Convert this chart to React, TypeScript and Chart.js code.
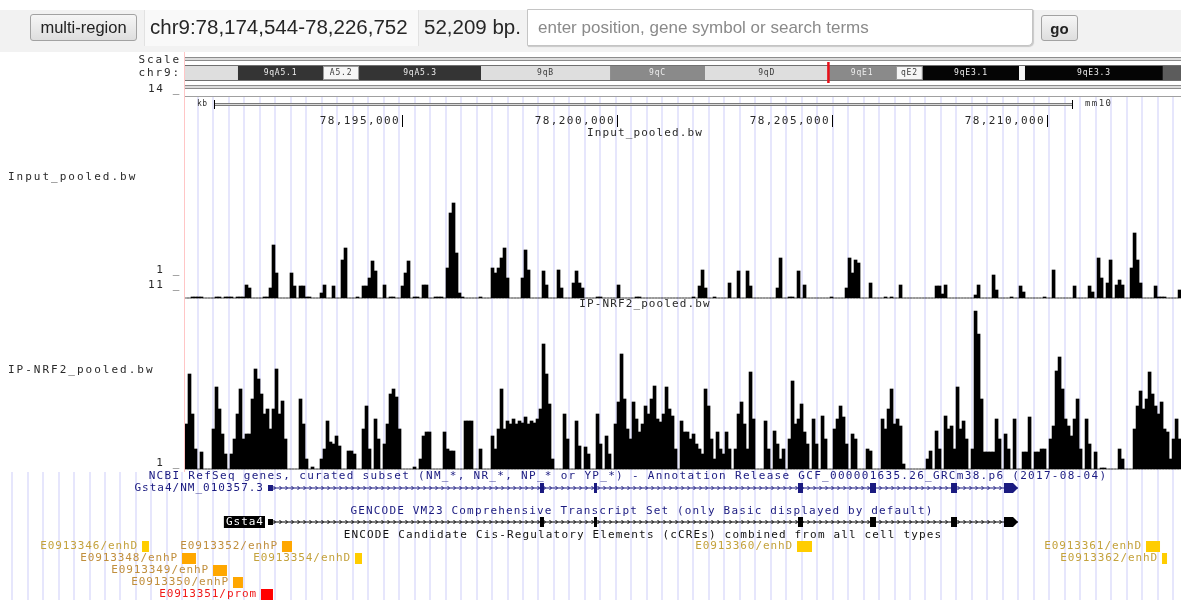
import { useEffect, useRef } from 'react';
import { Chart, registerables } from 'chart.js';

Chart.register(...registerables);

// Window on chr9 (mm10) covered by the data area
const VIEW_START = 78189954;
const VIEW_END = 78213116;
// Size of one summarised bigWig bin, in bp
const BIN_BP = 69.77;

// Mean coverage per bin, Input_pooled.bw
const inputSignal = [
  0, 0, 0.1, 0.1, 0.1, 0.1, 0, 0, 0, 0, 0.1, 0.1, 0, 0.1, 0.1, 0.1, 0, 0.1, 0.1, 0.1,
  1.3, 1, 0, 0, 0, 0, 0.1, 0.1, 1, 5.3, 2.5, 0, 0, 0, 0, 2.5, 1.2, 0, 1.2, 1.2,
  0.1, 0.1, 0, 0, 0, 0.5, 1.3, 0, 0, 1.2, 0, 0, 3.8, 5, 0, 0, 0, 0.1, 0, 1.2,
  1.2, 2, 3.7, 2.7, 0, 0, 1.3, 0, 0.1, 0.1, 0, 0, 1.2, 2.5, 3.7, 0, 0.1, 0.1, 0, 1.3,
  1.3, 0, 0, 0.1, 0.1, 0.1, 0, 3, 8.5, 9.5, 4.5, 0.5, 0.1, 0, 0, 0, 0, 0, 0.1, 0,
  0, 0, 3, 2.5, 3, 4, 5, 2, 0, 0, 0, 0, 2, 4.8, 2.8, 0, 0, 0, 0, 2.7,
  1.3, 0, 0, 0, 2.8, 1, 0, 0, 0, 1.5, 2.7, 1.5, 1, 0, 0, 0, 0, 0.1, 0.1, 0,
  0, 0, 0, 0, 1.3, 0, 0, 0, 0, 0, 0.1, 0.1, 0, 0, 0, 0, 0, 0, 0, 0,
  0, 0, 0, 0, 0, 0, 0, 0, 0, 0.1, 0, 1.2, 2.8, 1, 0, 0, 0.1, 0, 0, 0,
  0, 1.5, 0, 0, 2.7, 0, 0, 2.7, 1.2, 0, 0, 0, 0, 0, 0, 0, 0, 1, 4, 0,
  0, 0.1, 0.1, 0, 2.7, 0, 1.3, 0, 0, 0, 0, 0, 0, 0, 0, 0.1, 0, 0, 0, 0,
  1, 4, 2.5, 3.8, 3.5, 0, 0, 0, 1.5, 0, 0, 0, 0, 0.1, 0, 0.1, 0, 0, 1.3, 0,
  0, 0, 0, 0, 0, 0, 0, 0, 0, 0, 1.2, 1.2, 0.4, 1.3, 0, 0, 0, 0, 0, 0,
  0, 0, 0, 0.3, 1.3, 0, 0, 0, 0, 2.3, 0.8, 0, 0, 0, 0, 0.1, 0, 0, 1.2, 0.6,
  0, 0, 0, 0, 0, 0, 0.1, 0, 0, 2.8, 0, 0, 0, 0, 0, 0, 1.2, 0, 0, 0,
  0, 1.2, 0.6, 0, 4, 2, 0, 1.5, 3.8, 0, 1.3, 1.8, 1.3, 0, 0, 3, 6.5, 3.8, 1.5, 0,
  0, 0, 0, 1.2, 0.1, 0.1, 0.1, 0, 0, 0, 0, 0.8,
];

// Mean coverage per bin, IP-NRF2_pooled.bw
const ipSignal = [
  4.5, 9.5, 5.5, 2, 0, 1.7, 0, 0, 0, 4, 8.2, 6, 3.5, 1.5, 0, 1.5, 3, 5.5, 8, 3,
  3.5, 3.5, 7, 10, 9, 7.5, 5.5, 6, 4, 6, 10, 5.5, 6.8, 3, 0, 0, 0, 0, 7, 4.5,
  1, 0, 0.2, 0, 0, 1, 2, 4.8, 2.7, 2.5, 3.3, 2.3, 0, 0, 1.8, 1.8, 1.5, 0, 0, 4,
  6.3, 2, 0, 5, 3, 0, 2.5, 4.5, 7.5, 8, 7.2, 4, 0, 0, 0, 0, 0.2, 0, 1, 3.3,
  3.7, 3.7, 0, 0, 0, 0, 3.7, 2, 1.8, 1.8, 0, 0, 0, 4.8, 4.8, 4.8, 0, 0, 2, 0,
  0, 0, 3.3, 2, 4, 8, 4, 4.8, 4.5, 5, 4.5, 4.8, 4.6, 5.2, 4.5, 4.8, 4.6, 5, 6, 12.5,
  9.5, 6.5, 1, 0, 0, 0, 5.5, 3, 0, 0, 4.8, 2.3, 0, 2.2, 1.5, 0, 0, 5.5, 2.5, 0,
  3.3, 1.5, 0, 4.5, 6.7, 11.5, 7, 4, 3, 6.7, 5, 3.7, 4.5, 6.3, 5.5, 7, 8.3, 5, 4.7, 5.5,
  8.2, 6, 5.3, 2, 0, 4.8, 3.7, 3.7, 3, 3.5, 2.5, 2, 1.5, 8, 6.3, 3, 1, 3.7, 2, 1.5,
  3.7, 2, 0, 2, 5.5, 6.7, 4.5, 2, 9.7, 5, 0, 0, 0, 4.8, 2, 0, 3.8, 2.5, 1, 2,
  0, 3, 8.8, 4.5, 5, 6.5, 3.7, 2.5, 0, 5, 2.5, 0, 5.3, 3, 0, 0, 4, 5, 6.3, 5.2,
  2.5, 0, 3.5, 3, 0, 0, 0, 2, 1.8, 0, 0, 0, 5, 4, 6, 8, 4.5, 5, 4.3, 0.5,
  0, 0, 0, 0, 0, 0, 0, 1, 1.8, 0, 3.8, 2, 0, 5.3, 4, 4.3, 2, 8.2, 4, 4.8,
  3, 0, 2, 15.8, 13.5, 7, 1.7, 1.7, 1.7, 1.7, 5, 3, 0, 3.5, 2, 0, 5, 0, 0, 1.7,
  1.7, 5.2, 0, 1.7, 1.7, 2, 2, 0, 3, 4.3, 9.8, 11.2, 8, 5, 4.3, 3.3, 5, 7, 2, 0,
  5, 2.5, 0, 1.7, 0, 0.1, 0.1, 0, 0, 0, 0, 2, 1, 0, 0, 0, 4, 6.3, 7.8, 6,
  7, 9.7, 7.5, 6.3, 5.5, 6.7, 4, 3.7, 1, 3, 5, 3,
];

// Base-position ruler and blue guide lines
const rulerTicks = [78195000, 78200000, 78205000, 78210000];
const guideStart = 78190254;
const guideStep = 360;

// chr9 ideogram, band extents in Mb
const IDEO_SPAN_MB = 121.1;
const viewPosMb = 78.2;
const bandLabels = ['', '9qA5.1', 'A5.2', '9qA5.3', '9qB', '9qC', '9qD', '9qE1', 'qE2', '9qE3.1', '', '9qE3.3', ''];
const bandStartMb = [0, 6.44, 16.78, 21.16, 35.99, 51.68, 63.23, 78.2, 86.45, 89.7, 101.41, 102.13, 118.9];
const bandEndMb = [6.44, 16.78, 21.16, 35.99, 51.68, 63.23, 78.2, 86.45, 89.7, 101.41, 102.13, 118.9, 121.1];
const bandStains = ['gpos25', 'gpos75', 'gneg', 'gpos75', 'gpos25', 'gpos50', 'gpos25', 'gpos50', 'gneg', 'gpos100', 'gneg', 'gpos100', 'gpos66'];

// Gsta4 transcript (NM_010357.3, + strand)
const txStart = 78191884;
const txEnd = 78209326;
const cdsStart = 78198209;
const cdsEnd = 78209209;
const exonStarts = [78191884, 78198209, 78199465, 78204209, 78205884, 78207768, 78209000];
const exonEnds = [78192000, 78198302, 78199535, 78204326, 78206023, 78207907, 78209326];

// ENCODE candidate cis-regulatory elements
const ccreNames = ['E0913346/enhD', 'E0913348/enhP', 'E0913349/enhP', 'E0913350/enhP', 'E0913351/prom', 'E0913352/enhP', 'E0913354/enhD', 'E0913360/enhD', 'E0913361/enhD', 'E0913362/enhD'];
const ccreStarts = [78188954, 78189884, 78190605, 78191070, 78191721, 78192209, 78193907, 78204186, 78212302, 78212674];
const ccreEnds = [78189116, 78190209, 78190930, 78191302, 78192000, 78192442, 78194070, 78204535, 78212628, 78212791];
const ccreClasses = ['enhD', 'enhP', 'enhP', 'enhP', 'prom', 'enhP', 'enhD', 'enhD', 'enhD', 'enhD'];

const STAIN_FILL: Record<string, string> = {
  gneg: '#f6f6f6', gpos25: '#dedede', gpos50: '#8a8a8a', gpos66: '#5c5c5c', gpos75: '#343434', gpos100: '#050505',
};
const CCRE_BOX: Record<string, string> = { enhD: '#ffcd00', enhP: '#ffa700', prom: '#ff0000' };
const CCRE_TEXT: Record<string, string> = { enhD: '#c4a23c', enhP: '#c08e3c', prom: '#f01818' };
const NAVY = '#1a1a80';
const INK = '#2a2a2a';
const MONO = '"DejaVu Sans Mono", monospace';

function txt(ctx: CanvasRenderingContext2D, s: string, x: number, y: number, align: CanvasTextAlign, color: string, size = 11, spacing = 0.9) {
  ctx.save();
  ctx.font = `${size}px ${MONO}`;
  (ctx as any).letterSpacing = `${spacing}px`;
  ctx.textAlign = align;
  ctx.textBaseline = 'middle';
  ctx.fillStyle = color;
  ctx.fillText(s, x, y);
  ctx.restore();
}

function textWidth(ctx: CanvasRenderingContext2D, s: string, size = 11, spacing = 0.9) {
  ctx.save();
  ctx.font = `${size}px ${MONO}`;
  (ctx as any).letterSpacing = `${spacing}px`;
  const w = ctx.measureText(s).width;
  ctx.restore();
  return w;
}

function drawTranscript(ctx: CanvasRenderingContext2D, xs: any, y: number, color: string) {
  const s = xs.getPixelForValue(txStart);
  const e = xs.getPixelForValue(txEnd);
  ctx.fillStyle = color;
  ctx.strokeStyle = color;
  ctx.fillRect(s, y - 0.5, e - s, 1);
  ctx.lineWidth = 1;
  ctx.beginPath();
  for (let p = s + 7; p < e - 6; p += 6) {
    ctx.moveTo(p - 1.5, y - 2);
    ctx.lineTo(p + 0.5, y);
    ctx.lineTo(p - 1.5, y + 2);
  }
  ctx.stroke();
  for (let i = 0; i < exonStarts.length; i++) {
    const a0 = exonStarts[i];
    const a1 = exonEnds[i];
    const p0 = xs.getPixelForValue(a0);
    const p1 = xs.getPixelForValue(a1);
    const c0 = Math.max(a0, cdsStart);
    const c1 = Math.min(a1, cdsEnd);
    if (c1 > c0) {
      const q0 = xs.getPixelForValue(c0);
      const q1 = xs.getPixelForValue(c1);
      ctx.fillRect(q0, y - 5, Math.max(q1 - q0, 2), 10);
    }
    if (a1 > cdsEnd) {
      // 3' end drawn as the strand arrow
      const q0 = xs.getPixelForValue(Math.max(a0, cdsEnd));
      ctx.beginPath();
      ctx.moveTo(q0, y - 5);
      ctx.lineTo(p1, y);
      ctx.lineTo(q0, y + 5);
      ctx.closePath();
      ctx.fill();
    } else if (a0 < cdsStart) {
      const q1 = xs.getPixelForValue(Math.min(a1, cdsStart));
      ctx.fillRect(p0, y - 3, Math.max(q1 - p0, 2), 6);
    }
  }
}

const browserTracks = {
  id: 'browserTracks',
  beforeDatasetsDraw(chart: any) {
    const { ctx, chartArea: a, scales } = chart;
    const xs = scales.x;
    const xc = scales.xChr;
    const W = chart.width;
    const hRule = (y: number, color: string) => {
      ctx.fillStyle = color;
      ctx.fillRect(a.left, y, a.right - a.left, 1);
    };
    ctx.save();
    // guide lines
    ctx.fillStyle = '#e6e6fc';
    for (let k = -30; k < 90; k++) {
      const px = Math.round(xs.getPixelForValue(guideStart + k * guideStep));
      if (px < 0 || px > W) continue;
      if (px >= a.left + 2) ctx.fillRect(px - 1, 97, 2, 375);
      ctx.fillRect(px - 1, 472, 2, 128);
    }
    // left edge of the data area
    ctx.fillStyle = '#ffc6c6';
    ctx.fillRect(a.left - 1, 52, 1, 420);

    // Scale row
    hRule(57, '#8c8c8c');
    hRule(58, '#dcdcdc');
    hRule(59, '#dcdcdc');
    hRule(60, '#8c8c8c');

    // ideogram
    for (let i = 0; i < bandStartMb.length; i++) {
      const x0 = xc.getPixelForValue(bandStartMb[i]);
      const x1 = xc.getPixelForValue(bandEndMb[i]);
      ctx.fillStyle = STAIN_FILL[bandStains[i]];
      ctx.fillRect(x0, 66, x1 - x0, 14);
      if (bandStains[i] === 'gneg' && x1 - x0 > 12) {
        ctx.strokeStyle = '#9a9a9a';
        ctx.lineWidth = 1;
        ctx.strokeRect(x0 + 0.5, 66.5, x1 - x0 - 1, 13);
      }
    }
    hRule(65, '#707070');
    hRule(80, '#707070');
    const xm = xc.getPixelForValue(viewPosMb);
    ctx.fillStyle = '#e8101a';
    ctx.fillRect(xm - 1, 62, 2.5, 21);

    // rows under the ideogram
    hRule(85, '#8c8c8c');
    hRule(86, '#dcdcdc');
    hRule(87, '#dcdcdc');
    hRule(88, '#8c8c8c');
    hRule(96, '#a0a0a0');

    // base-position ruler
    const r0 = a.left + 29;
    const r1 = a.right - 109;
    ctx.fillStyle = '#7a7a7a';
    ctx.fillRect(r0, 103, r1 - r0, 1);
    ctx.fillRect(r0, 105, r1 - r0, 1);
    ctx.fillStyle = '#d8d8d8';
    ctx.fillRect(r0, 104, r1 - r0, 1);
    ctx.fillStyle = '#000';
    ctx.fillRect(r0, 100, 1, 9);
    ctx.fillRect(r1, 100, 1, 9);
    for (const t of rulerTicks) {
      const px = Math.round(xs.getPixelForValue(t));
      ctx.fillRect(px, 115, 1, 12);
    }
    ctx.restore();
  },
  afterDatasetsDraw(chart: any) {
    const { ctx, chartArea: a, scales } = chart;
    const xs = scales.x;
    const xc = scales.xChr;
    ctx.save();

    // ideogram band names
    for (let i = 0; i < bandStartMb.length; i++) {
      if (!bandLabels[i]) continue;
      const x0 = xc.getPixelForValue(bandStartMb[i]);
      const x1 = xc.getPixelForValue(bandEndMb[i]);
      const dark = ['gpos50', 'gpos66', 'gpos75', 'gpos100'].includes(bandStains[i]);
      txt(ctx, bandLabels[i], (x0 + x1) / 2, 73, 'center', dark ? '#eeeeee' : '#3a3a3a', 8, 0.8);
    }

    // left-hand labels
    txt(ctx, 'Scale', 181, 60, 'right', INK, 11, 1.9);
    txt(ctx, 'chr9:', 181, 73, 'right', INK, 11, 1.9);
    txt(ctx, '14 _', 181, 89, 'right', INK, 11, 1.6);
    txt(ctx, 'Input_pooled.bw', 8, 177, 'left', INK, 11, 2);
    txt(ctx, 'IP-NRF2_pooled.bw', 8, 370, 'left', INK, 11, 2);
    txt(ctx, '1 _', 181, 270, 'right', INK, 11, 1.6);
    txt(ctx, '11 _', 181, 285, 'right', INK, 11, 1.6);
    txt(ctx, '1 _', 181, 463, 'right', INK, 11, 1.6);

    // ruler text
    txt(ctx, 'kb', a.left + 12, 104, 'left', '#333', 8, 0.5);
    txt(ctx, 'mm10', a.right - 96, 104, 'left', '#333', 9, 1.4);
    for (const t of rulerTicks) {
      const px = Math.round(xs.getPixelForValue(t));
      txt(ctx, t.toLocaleString('en-US'), px - 2, 121, 'right', INK, 11, 1.4);
    }

    // centred track titles
    txt(ctx, 'Input_pooled.bw', 645, 133, 'center', INK, 11, 1.1);
    txt(ctx, 'IP-NRF2_pooled.bw', 645, 304, 'center', INK, 11, 1.1);
    txt(ctx, 'NCBI RefSeq genes, curated subset (NM_*, NR_*, NP_* or YP_*) - Annotation Release GCF_000001635.26_GRCm38.p6 (2017-08-04)', 628, 476, 'center', NAVY, 11, 1.3);
    txt(ctx, 'GENCODE VM23 Comprehensive Transcript Set (only Basic displayed by default)', 642, 511, 'center', NAVY, 11, 1.15);
    txt(ctx, 'ENCODE Candidate Cis-Regulatory Elements (cCREs) combined from all cell types', 643, 535, 'center', '#111', 11, 1.15);

    // gene models
    const gs = xs.getPixelForValue(txStart);
    drawTranscript(ctx, xs, 488, NAVY);
    txt(ctx, 'Gsta4/NM_010357.3', gs - 4, 488, 'right', NAVY, 11, 1.0);
    drawTranscript(ctx, xs, 522, '#000');
    const gw = textWidth(ctx, 'Gsta4', 11, 1.0);
    ctx.fillStyle = '#000';
    ctx.fillRect(gs - 6 - gw, 516, gw + 3, 12);
    txt(ctx, 'Gsta4', gs - 4, 522, 'right', '#fff', 11, 1.0);

    // cCREs, packed into rows
    const order = ccreStarts.map((_, i) => i).sort((p, q) => ccreStarts[p] - ccreStarts[q]);
    const rowEnds: number[] = [];
    for (const i of order) {
      const b0 = xs.getPixelForValue(ccreStarts[i]);
      const b1 = xs.getPixelForValue(ccreEnds[i]);
      const w = textWidth(ctx, ccreNames[i], 11, 0.9);
      const left = b0 - 5 - w;
      let r = rowEnds.findIndex((e) => e + 10 <= left);
      if (r < 0) {
        r = rowEnds.length;
        rowEnds.push(b1);
      } else {
        rowEnds[r] = b1;
      }
      const yc = 546 + r * 12;
      ctx.fillStyle = CCRE_BOX[ccreClasses[i]];
      ctx.fillRect(b0, yc - 5, Math.max(b1 - b0, 2), 11);
      txt(ctx, ccreNames[i], b0 - 4, yc, 'right', CCRE_TEXT[ccreClasses[i]], 11, 0.9);
    }
    ctx.restore();
  },
};

const toBars = (vals: number[]) => vals.map((v, i) => ({ x: VIEW_START + (i + 0.5) * BIN_BP, y: v }));

export default function App() {
  const canvasRef = useRef<HTMLCanvasElement | null>(null);

  useEffect(() => {
    document.body.style.margin = '0';
    const chart = new Chart(canvasRef.current as HTMLCanvasElement, {
      type: 'bar',
      data: {
        datasets: [
          {
            label: 'Input_pooled.bw',
            data: toBars(inputSignal),
            yAxisID: 'yIn',
            backgroundColor: '#000',
            borderWidth: 0,
            barPercentage: 1,
            categoryPercentage: 1,
            grouped: false,
          },
          {
            label: 'IP-NRF2_pooled.bw',
            data: toBars(ipSignal),
            yAxisID: 'yIp',
            backgroundColor: '#000',
            borderWidth: 0,
            barPercentage: 1,
            categoryPercentage: 1,
            grouped: false,
          },
        ],
      } as any,
      options: {
        responsive: false,
        animation: false,
        events: [],
        layout: { padding: { left: 185, right: 0, top: 0, bottom: 0 } },
        plugins: { legend: { display: false }, tooltip: { enabled: false }, title: { display: false } },
        scales: {
          x: { type: 'linear', min: VIEW_START, max: VIEW_END, display: false, offset: false },
          xChr: { type: 'linear', axis: 'x', min: 0, max: IDEO_SPAN_MB, display: false, offset: false },
          yIn: { type: 'linear', axis: 'y', min: -30.2, max: 29.8, display: false },
          yIp: { type: 'linear', axis: 'y', min: -13.1, max: 46.9, display: false },
        },
      } as any,
      plugins: [browserTracks],
    });
    return () => chart.destroy();
  }, []);

  const font = 'Arial, "Liberation Sans", sans-serif';
  const btn = {
    position: 'absolute' as const,
    boxSizing: 'border-box' as const,
    border: '1px solid #a2a2a2',
    borderRadius: 3,
    background: 'linear-gradient(#f6f6f6, #dedede)',
    color: '#222',
    display: 'flex',
    alignItems: 'center',
    justifyContent: 'center',
    fontFamily: font,
  };

  return (
    <div style={{ position: 'absolute', left: 0, top: 0, width: 1181, height: 600, overflow: 'hidden', background: '#fff' }}>
      <canvas ref={canvasRef} width={1181} height={600} style={{ position: 'absolute', left: 0, top: 0, width: 1181, height: 600 }} />
      <div style={{ position: 'absolute', left: 0, top: 10, width: 1181, height: 42, background: '#f2f2f2' }} />
      <div style={{ ...btn, left: 30, top: 14, width: 107, height: 27, fontSize: 16.5 }}>multi-region</div>
      <div style={{ position: 'absolute', left: 144, top: 10, width: 275, height: 36, background: '#f9f9f9', borderLeft: '1px solid #e2e2e2', borderRight: '1px solid #e2e2e2', boxSizing: 'border-box' }} />
      <div style={{ position: 'absolute', left: 150, top: 9, height: 36, lineHeight: '36px', fontFamily: font, fontSize: 20.5, color: '#262626', whiteSpace: 'nowrap' }}>chr9:78,174,544-78,226,752</div>
      <div style={{ position: 'absolute', left: 424, top: 9, height: 36, lineHeight: '36px', fontFamily: font, fontSize: 20.5, color: '#262626', whiteSpace: 'nowrap' }}>52,209 bp.</div>
      <div style={{ position: 'absolute', left: 527, top: 9, width: 506, height: 37, boxSizing: 'border-box', background: '#fff', border: '1px solid #c4c4c4', borderRadius: '0 0 5px 0', boxShadow: '1px 1px 1px #c8c8c8', paddingLeft: 10, lineHeight: '35px', fontFamily: font, fontSize: 17, color: '#8a8a8a', whiteSpace: 'nowrap' }}>enter position, gene symbol or search terms</div>
      <div style={{ ...btn, left: 1041, top: 15, width: 37, height: 26, fontSize: 15, fontWeight: 'bold' }}>go</div>
    </div>
  );
}
